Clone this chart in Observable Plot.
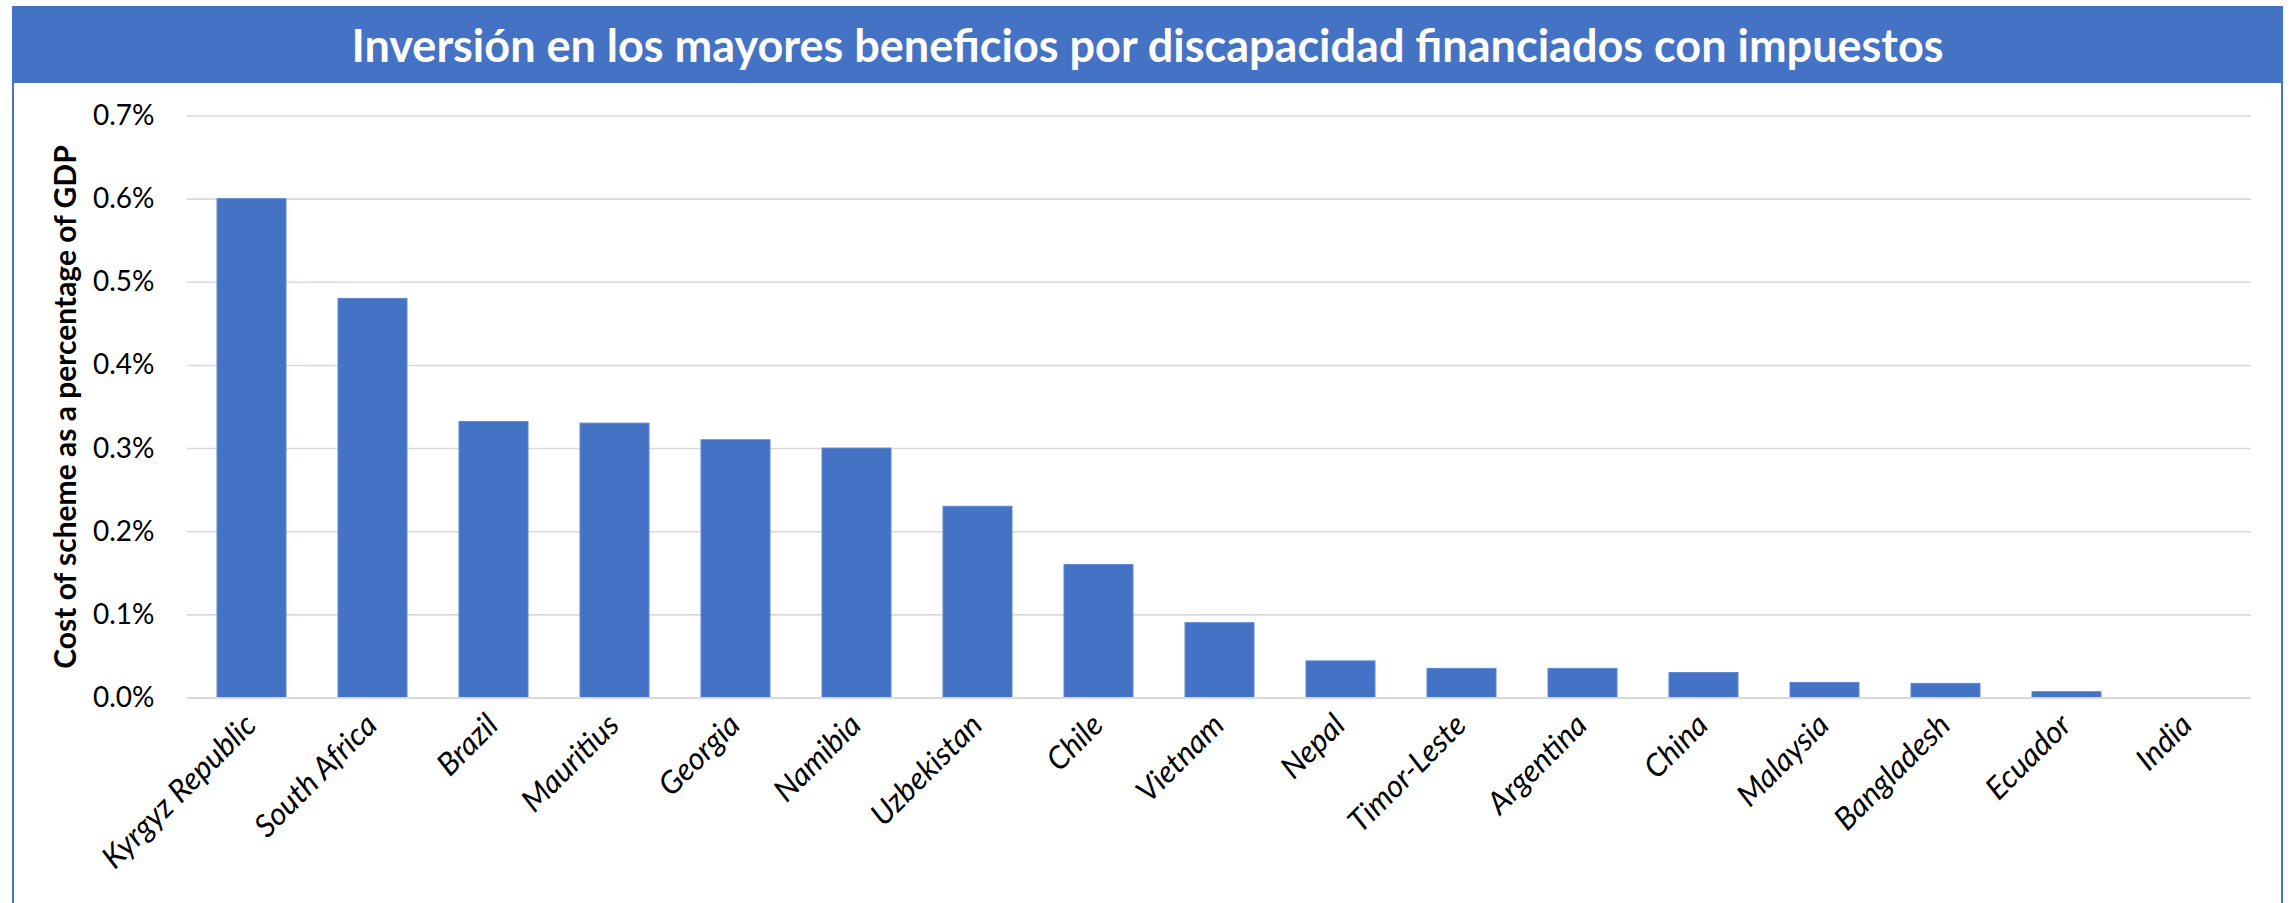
<!DOCTYPE html>
<html>
<head>
<meta charset="utf-8">
<script src="https://cdn.jsdelivr.net/npm/d3@7"></script>
<script src="https://cdn.jsdelivr.net/npm/@observablehq/plot@0.6"></script>
<style>
  html, body { margin: 0; padding: 0; background: #ffffff; }
  #page { width: 2292px; height: 903px; position: relative; overflow: hidden; background: #fff; }
  #title {
    position: absolute; left: 12px; top: 6px; width: 2271px; height: 77px;
    background: #4472C4; color: #fff; font-family: Lato, sans-serif; font-weight: 700;
    font-size: 45px; display: flex; align-items: center; justify-content: center;
  }
  #frame {
    position: absolute; left: 12px; top: 83px; width: 2267px; height: 820px;
    border-left: 2px solid #4472C4; border-right: 2px solid #4472C4;
  }
  #frame svg { display: block; }
</style>
</head>
<body>
<div id="page">
  <div id="title">Inversión en los mayores beneficios por discapacidad financiados con impuestos</div>
  <div id="frame"></div>
</div>
<script>
const countries = ["Kyrgyz Republic", "South Africa", "Brazil", "Mauritius", "Georgia", "Namibia",
  "Uzbekistan", "Chile", "Vietnam", "Nepal", "Timor-Leste", "Argentina", "China", "Malaysia",
  "Bangladesh", "Ecuador", "India"];
const costPct = [0.60, 0.48, 0.332, 0.330, 0.31, 0.30, 0.23, 0.16, 0.09, 0.044, 0.035, 0.035,
  0.030, 0.018, 0.017, 0.007, 0.0];
const yTicks = [0, 0.1, 0.2, 0.3, 0.4, 0.5, 0.6, 0.7];
const yLabel = "Cost of scheme as a percentage of GDP";

const data = countries.map((c, i) => ({country: c, value: costPct[i]}));

const chart = Plot.plot({
  width: 2267,
  height: 820,
  marginLeft: 173,
  marginRight: 30,
  marginTop: 32.5,
  marginBottom: 205.5,
  style: {fontFamily: "Lato, sans-serif", fontSize: "28px", color: "#000", background: "#fff"},
  x: {domain: countries, paddingInner: 0.43, paddingOuter: 0.2, axis: null},
  y: {domain: [0, 0.7], axis: null},
  marks: [
    Plot.gridY(yTicks, {stroke: "#d9d9d9", strokeOpacity: 1, strokeWidth: 1.6}),
    Plot.barY(data, {x: "country", y: "value", fill: "#4472C4", stroke: "#5f88d0", strokeWidth: 1}),
    Plot.ruleY([0], {stroke: "#d9d9d9", strokeWidth: 2.2}),
    Plot.axisY(yTicks, {tickSize: 0, tickPadding: 33, tickFormat: d => d.toFixed(1) + "%",
      label: null, fontSize: 28, fill: "#000"}),
    Plot.text(data, {x: "country", text: "country", frameAnchor: "bottom", rotate: -45,
      textAnchor: "end", lineAnchor: "middle", dx: -1, dy: 22, fontStyle: "italic",
      fontSize: 31, fill: "#000"}),
    Plot.text([yLabel], {frameAnchor: "left", dx: -121, rotate: -90, textAnchor: "middle",
      lineAnchor: "middle", fontWeight: "bold", fontSize: 30, fill: "#000"})
  ]
});
document.getElementById("frame").appendChild(chart);
</script>
</body>
</html>
